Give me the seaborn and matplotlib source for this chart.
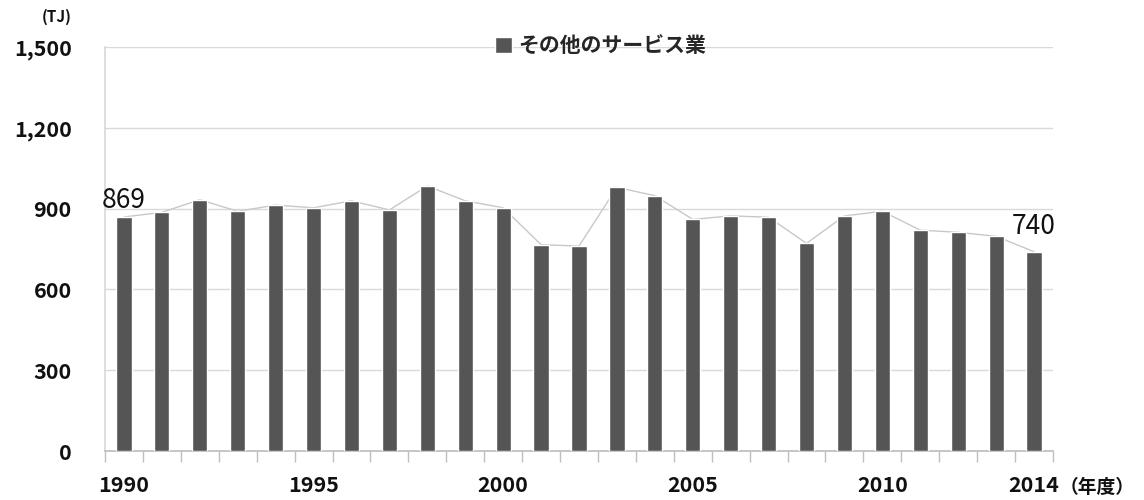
import numpy as np
import pandas as pd
import matplotlib
matplotlib.use("Agg")
import matplotlib.pyplot as plt
import seaborn as sns

# Energy consumption, other service industries (TJ), fiscal years 1990-2014
years = list(range(1990, 2015))
values = [869, 886, 933, 890, 913, 903, 929, 895, 984, 929, 903, 766, 761,
          979, 948, 860, 873, 868, 771, 873, 890, 820, 812, 797, 740]
shown_years = [1990, 1995, 2000, 2005, 2010, 2014]
series_name = "その他のサービス業"
y_ticks = [0, 300, 600, 900, 1200, 1500]

sns.set_theme(style="white")
plt.rcParams["font.family"] = ["Noto Sans CJK JP", "DejaVu Sans"]

df = pd.DataFrame({"year": [str(y) for y in years], "value": values})

fig = plt.figure(figsize=(11.44, 5.0), dpi=100)
ax = fig.add_axes([105 / 1144, 49 / 500, 948 / 1144, 404 / 500])

bar_color = "#555555"
sns.barplot(data=df, x="year", y="value", color=bar_color, width=0.4,
            saturation=1, ax=ax, zorder=3, label=series_name)
sns.pointplot(data=df, x="year", y="value", color="#c8c8c8", markers="",
              linewidth=1.0, ax=ax, zorder=2)

n = len(years)
ax.set_xlim(-0.5, n - 0.5)
ax.set_ylim(0, 1500)
ax.set_yticks(y_ticks)
ax.set_yticklabels([f"{v:,}" for v in y_ticks], fontsize=15.5, fontweight="bold",
                   color="#111111")
ax.yaxis.grid(True, color="#d9d9d9", linewidth=1.0, zorder=0)
ax.set_axisbelow(True)

ax.set_xticks([years.index(y) for y in shown_years])
ax.set_xticklabels([str(y) for y in shown_years], fontsize=15.5, fontweight="bold",
                   color="#111111")
ax.set_xticks(np.arange(-0.5, n, 1.0), minor=True)
ax.tick_params(axis="x", which="major", bottom=True, length=0, pad=17)
ax.tick_params(axis="x", which="minor", bottom=True, length=8, color="#bfbfbf",
               width=1, direction="out")
ax.tick_params(axis="y", length=0, pad=24)
for lbl in ax.get_yticklabels():
    lbl.set_horizontalalignment("right")

ax.set_xlabel("")
ax.set_ylabel("")
for side in ["top", "right"]:
    ax.spines[side].set_visible(False)
ax.spines["left"].set_color("#d9d9d9")
ax.spines["bottom"].set_color("#bfbfbf")

# First and last values
ax.text(0, values[0] + 60, f"{values[0]}", ha="center", va="center", fontsize=19,
        color="#111111")
ax.text(n - 1, values[-1] + 95, f"{values[-1]}", ha="center", va="center", fontsize=19,
        color="#111111")

# Units
fig.text(57 / 1144, 1 - 17 / 500, "(TJ)", ha="center", va="center",
         fontsize=11, fontweight="bold", color="#111111")
fig.text(1060 / 1144, 1 - 487 / 500, "（年度）", ha="left", va="center",
         fontsize=13.5, fontweight="bold", color="#111111")

# Legend
leg = ax.legend(loc="upper center", bbox_to_anchor=(0.523, 1.075), frameon=False,
                handlelength=0.8, handleheight=0.8, handletextpad=0.3,
                prop={"weight": "bold", "size": 15})
ax.set_zorder(1)

fig.savefig("out.png", dpi=100)
